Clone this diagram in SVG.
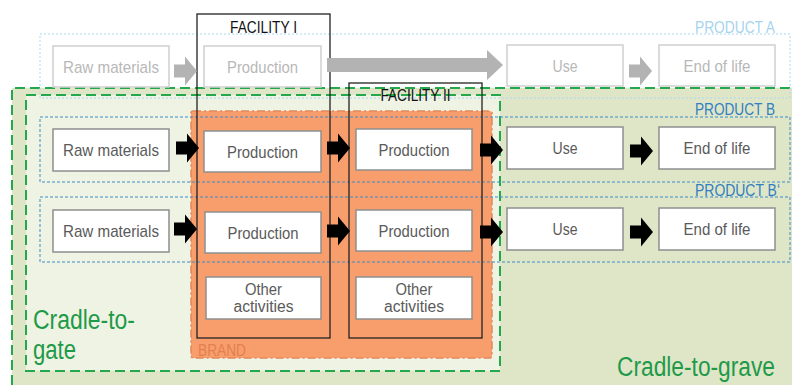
<svg xmlns="http://www.w3.org/2000/svg" width="792" height="385" viewBox="0 0 792 385">
<style>
text{font-family:"Liberation Sans",Arial,sans-serif}
.box{fill:#fff;stroke:#8e8e8e;stroke-width:1.5}
.boxA{fill:#fff;stroke:#cfcfcf;stroke-width:1.5}
.lbl{font-size:17px;fill:#5a5a5a;text-anchor:middle}
.lblA{font-size:17px;fill:#b8b8b8;text-anchor:middle}
.oth{font-size:16px}
.fac{fill:none;stroke:#222;stroke-width:1.3}
.facT{font-size:16px;fill:#111;text-anchor:middle}
.prodA{fill:none;stroke:#a9d8f2;stroke-width:1;stroke-dasharray:2 2}
.prodB{fill:none;stroke:#3a8cc8;stroke-width:1;stroke-dasharray:3 2}
.pT{font-size:16px}
.green{fill:none;stroke:#23a84b;stroke-width:2;stroke-dasharray:10 5}
.gT{font-size:27px;fill:#1e9a48}
.arrK{fill:#000}
.arrG{fill:#b3b3b3}
</style>
<defs>
<path id="arr" d="M-23,-6.5H-12V-14.5L0,0L-12,14.5V6.5H-23Z"/>
</defs>

<g id="cradle-to-grave">
<rect x="12" y="88" width="780" height="297" fill="#dfe6c8"/>
<path d="M12,385V88H792" class="green"/>
<text x="775" y="376" class="gT" font-size="26" text-anchor="end" textLength="158" lengthAdjust="spacingAndGlyphs">Cradle-to-grave</text>
</g>

<g id="cradle-to-gate">
<rect x="26" y="95" width="474" height="276" fill="#eff3e3"/>
<rect x="26" y="95" width="474" height="276" class="green"/>
<text x="33" y="329" class="gT" textLength="102" lengthAdjust="spacingAndGlyphs">Cradle-to-</text>
<text x="33" y="359" class="gT" textLength="43" lengthAdjust="spacingAndGlyphs">gate</text>
</g>

<g id="brand">
<rect x="191" y="111" width="301" height="247" rx="2" fill="#f89e6c" stroke="#e2885b" stroke-width="1.5" stroke-dasharray="8 3 2 3"/>
<text x="198" y="356" font-size="17" fill="#e3804f" textLength="48" lengthAdjust="spacingAndGlyphs">BRAND</text>
</g>

<g id="product-a">
<rect x="40" y="34" width="750" height="64" class="prodA"/>
<text x="695" y="33" class="pT" fill="#a6d4ee" textLength="80" lengthAdjust="spacingAndGlyphs">PRODUCT A</text>
</g>
<g id="product-b">
<rect x="40" y="117" width="750" height="65" class="prodB"/>
<text x="695" y="115" class="pT" fill="#2f7fc1" textLength="80" lengthAdjust="spacingAndGlyphs">PRODUCT B</text>
</g>
<g id="product-b2">
<rect x="40" y="197" width="750" height="65" class="prodB"/>
<text x="695" y="196" class="pT" fill="#2f7fc1" textLength="85" lengthAdjust="spacingAndGlyphs">PRODUCT B‘</text>
</g>

<g id="facility-1">
<rect x="197" y="14" width="133" height="324" class="fac"/>
<text x="263.5" y="33" class="facT" textLength="67" lengthAdjust="spacingAndGlyphs">FACILITY I</text>
</g>
<g id="facility-2">
<rect x="349" y="83" width="133" height="255" class="fac"/>
<text x="415.5" y="101" class="facT" textLength="70" lengthAdjust="spacingAndGlyphs">FACILITY II</text>
</g>

<g id="connectors">
<use href="#arr" transform="translate(197,71)" class="arrG"/>
<path d="M327,58H487V50L503,65L487,80V72H327Z" class="arrG"/>
<use href="#arr" transform="translate(652,71)" class="arrG"/>
<use href="#arr" transform="translate(199,148)" class="arrK"/>
<use href="#arr" transform="translate(350,148)" class="arrK"/>
<use href="#arr" transform="translate(503,150)" class="arrK"/>
<use href="#arr" transform="translate(653,151)" class="arrK"/>
<use href="#arr" transform="translate(197,229)" class="arrK"/>
<use href="#arr" transform="translate(350,231)" class="arrK"/>
<use href="#arr" transform="translate(503,232)" class="arrK"/>
<use href="#arr" transform="translate(653,232)" class="arrK"/>
</g>

<g id="a-raw"><rect x="53" y="46" width="116" height="41" class="boxA"/><text x="111" y="73" class="lblA" textLength="96" lengthAdjust="spacingAndGlyphs">Raw materials</text></g>
<g id="a-prod"><rect x="204" y="46" width="117" height="41" class="boxA"/><text x="262.5" y="73" class="lblA" textLength="71" lengthAdjust="spacingAndGlyphs">Production</text></g>
<g id="a-use"><rect x="507" y="45" width="116" height="41" class="boxA"/><text x="565" y="72" class="lblA" textLength="25" lengthAdjust="spacingAndGlyphs">Use</text></g>
<g id="a-eol"><rect x="659" y="45" width="116" height="41" class="boxA"/><text x="717" y="72" class="lblA" textLength="67" lengthAdjust="spacingAndGlyphs">End of life</text></g>

<g id="b-raw"><rect x="53" y="129" width="116" height="42" class="box"/><text x="111" y="156" class="lbl" textLength="96" lengthAdjust="spacingAndGlyphs">Raw materials</text></g>
<g id="b-prod1"><rect x="204" y="131" width="117" height="41" class="box"/><text x="262.5" y="157.5" class="lbl" textLength="71" lengthAdjust="spacingAndGlyphs">Production</text></g>
<g id="b-prod2"><rect x="356" y="129" width="116" height="41" class="box"/><text x="414" y="155.5" class="lbl" textLength="71" lengthAdjust="spacingAndGlyphs">Production</text></g>
<g id="b-use"><rect x="507" y="127" width="116" height="42" class="box"/><text x="565" y="154" class="lbl" textLength="25" lengthAdjust="spacingAndGlyphs">Use</text></g>
<g id="b-eol"><rect x="659" y="127" width="116" height="42" class="box"/><text x="717" y="154" class="lbl" textLength="67" lengthAdjust="spacingAndGlyphs">End of life</text></g>

<g id="b2-raw"><rect x="53" y="210" width="116" height="42" class="box"/><text x="111" y="237" class="lbl" textLength="96" lengthAdjust="spacingAndGlyphs">Raw materials</text></g>
<g id="b2-prod1"><rect x="205" y="212" width="116" height="41" class="box"/><text x="263" y="238.5" class="lbl" textLength="71" lengthAdjust="spacingAndGlyphs">Production</text></g>
<g id="b2-prod2"><rect x="356" y="210" width="116" height="41" class="box"/><text x="414" y="236.5" class="lbl" textLength="71" lengthAdjust="spacingAndGlyphs">Production</text></g>
<g id="b2-use"><rect x="507" y="208" width="116" height="42" class="box"/><text x="565" y="235" class="lbl" textLength="25" lengthAdjust="spacingAndGlyphs">Use</text></g>
<g id="b2-eol"><rect x="659" y="208" width="116" height="42" class="box"/><text x="717" y="235" class="lbl" textLength="67" lengthAdjust="spacingAndGlyphs">End of life</text></g>

<g id="other1"><rect x="206" y="277" width="115" height="42" class="box"/><text x="263.5" y="295" class="lbl oth" textLength="37" lengthAdjust="spacingAndGlyphs">Other</text><text x="263.5" y="312" class="lbl oth" textLength="60" lengthAdjust="spacingAndGlyphs">activities</text></g>
<g id="other2"><rect x="356" y="277" width="116" height="42" class="box"/><text x="414" y="295" class="lbl oth" textLength="37" lengthAdjust="spacingAndGlyphs">Other</text><text x="414" y="312" class="lbl oth" textLength="60" lengthAdjust="spacingAndGlyphs">activities</text></g>
</svg>
